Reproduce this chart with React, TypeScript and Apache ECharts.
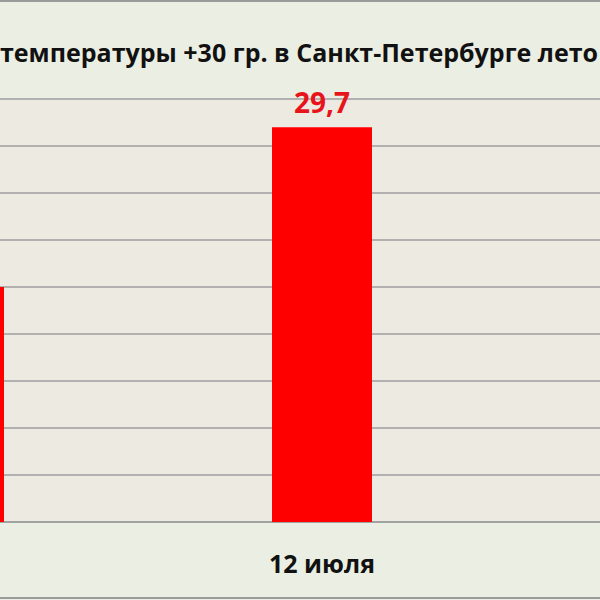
import React, { useEffect, useRef } from "react";
import * as echarts from "echarts";

// only the middle of the original slide is visible; the outer categories fall off the page
const categories = ["5 июля", "12 июля", ""];
const temperatures: (number | null)[] = [28.0, 29.7, null];
const titleText = "температуры +30 гр. в Санкт-Петербурге лето";

const yMin = 25.5;
const yMax = 30;
const yStep = 0.5;

const FONT = "'Open Sans', 'DejaVu Sans', sans-serif";

export default function App() {
  const chartRef = useRef<HTMLDivElement>(null);

  useEffect(() => {
    if (!chartRef.current) return;
    const chart = echarts.init(chartRef.current, undefined, { renderer: "svg" });

    chart.setOption({
      animation: false,
      backgroundColor: "#EBEEE2",
      grid: {
        left: 0,
        right: 0,
        top: 99,
        bottom: 78,
        show: true,
        backgroundColor: "#EDEBE1",
        borderWidth: 0,
      },
      graphic: [
        {
          type: "rect",
          shape: { x: 0, y: 1, width: 1104, height: 597 },
          style: { fill: "none", stroke: "#9a9a9a", lineWidth: 2 },
          silent: true,
        },
        {
          type: "text",
          x: 230,
          y: 52,
          style: {
            text: titleText,
            fontFamily: FONT,
            fontSize: 25,
            fontWeight: "bold",
            fill: "#111111",
            textAlign: "left",
            textVerticalAlign: "middle",
          },
        },
      ],
      xAxis: {
        type: "category",
        data: categories,
        axisLine: { lineStyle: { color: "#9c9c9c", width: 1.5 } },
        axisTick: { length: 9, lineStyle: { color: "#7f7f7f", width: 1 } },
        axisLabel: {
          margin: 28,
          color: "#111111",
          fontFamily: FONT,
          fontSize: 25,
          fontWeight: "bold",
        },
      },
      yAxis: {
        type: "value",
        min: yMin,
        max: yMax,
        interval: yStep,
        axisLine: { show: false },
        axisTick: { show: false },
        axisLabel: { show: false },
        splitLine: { lineStyle: { color: "#9e9e9e", width: 1.5 } },
      },
      series: [
        {
          type: "bar",
          data: temperatures,
          barWidth: 100,
          itemStyle: { color: "#FF0000" },
          label: {
            show: true,
            position: "top",
            distance: 11,
            color: "#E8141B",
            fontFamily: FONT,
            fontSize: 28,
            fontWeight: "bold",
            formatter: (p: any) => String(p.value).replace(".", ","),
          },
        },
      ],
    });

    return () => chart.dispose();
  }, []);

  return (
    <div
      style={{
        position: "fixed",
        left: 0,
        top: 0,
        width: 600,
        height: 600,
        overflow: "hidden",
      }}
    >
      <div
        ref={chartRef}
        style={{ position: "absolute", left: -230, top: 0, width: 1104, height: 600 }}
      />
    </div>
  );
}
